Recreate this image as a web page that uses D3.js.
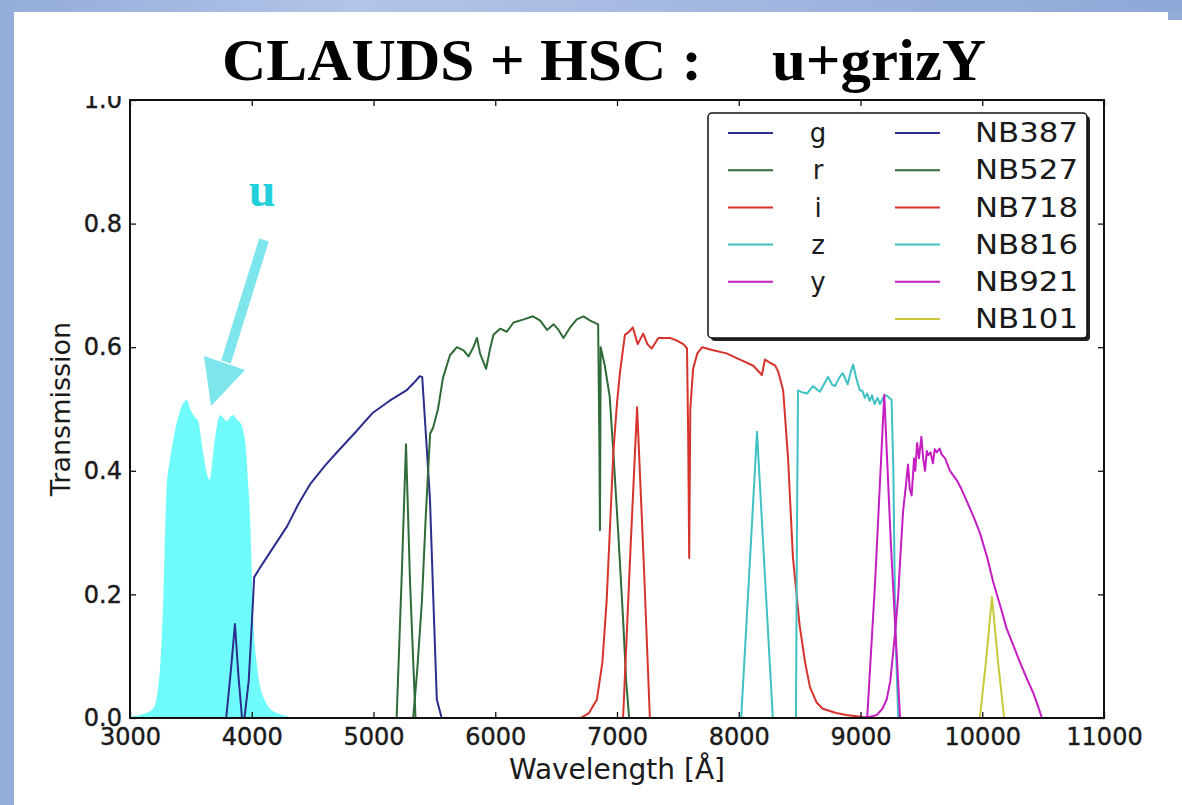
<!DOCTYPE html>
<html lang="en">
<head>
<meta charset="utf-8" />
<title>CLAUDS + HSC filters</title>
<script src="https://d3js.org/d3.v7.min.js"></script>
<style>
  html, body { margin: 0; padding: 0; background: #ffffff; }
  svg { display: block; }
</style>
</head>
<body>
<div id="svgContainer"></div>
<script>
// axis ticks
var xTicks = [3000, 4000, 5000, 6000, 7000, 8000, 9000, 10000, 11000];
var yTicks = [0.0, 0.2, 0.4, 0.6, 0.8, 1.0];

// filter curves: [wavelength (A), transmission]
var uCurve = [[3000,0.002],[3100,0.006],[3190,0.015],[3225,0.04],[3250,0.09],[3275,0.2],[3300,0.37],[3330,0.42],[3355,0.45],[3400,0.49],[3440,0.51],[3465,0.515],[3495,0.5],[3520,0.49],[3560,0.48],[3600,0.43],[3640,0.39],[3655,0.385],[3690,0.44],[3740,0.49],[3770,0.485],[3795,0.48],[3825,0.488],[3850,0.49],[3880,0.482],[3905,0.478],[3930,0.465],[3950,0.44],[3970,0.38],[3985,0.33],[4000,0.24],[4010,0.17],[4040,0.09],[4070,0.05],[4110,0.028],[4150,0.015],[4220,0.007],[4290,0.003],[4400,0]];
var gCurve = [[3940,0],[3975,0.06],[4000,0.15],[4020,0.228],[4068,0.243],[4150,0.268],[4290,0.31],[4380,0.345],[4478,0.378],[4600,0.408],[4700,0.43],[4850,0.462],[4995,0.494],[5130,0.513],[5270,0.53],[5330,0.542],[5380,0.553],[5400,0.552],[5430,0.46],[5464,0.353],[5490,0.2],[5520,0.03],[5560,0]];
var rCurve = [[5326,0],[5360,0.08],[5398,0.19],[5430,0.33],[5465,0.46],[5490,0.47],[5530,0.5],[5570,0.55],[5628,0.587],[5685,0.6],[5740,0.595],[5780,0.585],[5820,0.6],[5850,0.615],[5875,0.59],[5925,0.565],[5955,0.595],[5985,0.62],[6040,0.63],[6095,0.625],[6150,0.64],[6235,0.645],[6310,0.65],[6370,0.643],[6425,0.628],[6480,0.637],[6520,0.628],[6560,0.615],[6615,0.632],[6670,0.645],[6725,0.65],[6780,0.643],[6845,0.637],[6855,0.45],[6860,0.304],[6866,0.6],[6900,0.57],[6940,0.52],[6970,0.43],[7010,0.3],[7050,0.16],[7075,0.06],[7100,0]];
var iCurve = [[6700,0],[6770,0.008],[6835,0.03],[6880,0.09],[6915,0.19],[6945,0.32],[6970,0.43],[7000,0.51],[7025,0.56],[7065,0.62],[7100,0.625],[7130,0.632],[7170,0.605],[7215,0.622],[7250,0.605],[7285,0.598],[7340,0.615],[7435,0.615],[7500,0.61],[7545,0.605],[7575,0.598],[7585,0.45],[7593,0.259],[7602,0.5],[7625,0.565],[7660,0.59],[7700,0.6],[7790,0.595],[7900,0.59],[8010,0.58],[8120,0.57],[8190,0.555],[8215,0.58],[8256,0.575],[8300,0.57],[8325,0.56],[8365,0.53],[8405,0.42],[8445,0.26],[8500,0.15],[8545,0.09],[8585,0.05],[8640,0.025],[8690,0.015],[8800,0.008],[8885,0.005],[9000,0.002],[9050,0]];
var zCurve = [[8470,0],[8478,0.3],[8487,0.53],[8520,0.527],[8560,0.525],[8610,0.537],[8667,0.528],[8700,0.54],[8733,0.552],[8765,0.54],[8790,0.537],[8830,0.552],[8855,0.558],[8895,0.54],[8920,0.56],[8940,0.572],[8965,0.55],[8995,0.53],[9015,0.53],[9035,0.518],[9055,0.525],[9075,0.513],[9095,0.522],[9115,0.508],[9140,0.518],[9160,0.508],[9190,0.52],[9215,0.522],[9255,0.515],[9270,0.4],[9285,0.15],[9310,0]];
var yCurve = [[8990,0],[9080,0.002],[9135,0.005],[9180,0.015],[9215,0.03],[9245,0.06],[9265,0.1],[9290,0.15],[9310,0.2],[9330,0.27],[9350,0.335],[9375,0.38],[9390,0.41],[9405,0.37],[9420,0.36],[9440,0.42],[9450,0.4],[9465,0.445],[9480,0.42],[9500,0.455],[9515,0.42],[9530,0.4],[9545,0.432],[9555,0.425],[9575,0.43],[9595,0.412],[9610,0.435],[9625,0.43],[9650,0.436],[9665,0.427],[9695,0.42],[9735,0.4],[9790,0.385],[9830,0.37],[9875,0.35],[9930,0.325],[9980,0.3],[10040,0.26],[10090,0.22],[10150,0.18],[10200,0.145],[10260,0.115],[10310,0.09],[10370,0.062],[10420,0.04],[10460,0.018],[10490,0]];
var nb387Curve = [[3790,0],[3830,0.08],[3862,0.152],[3890,0.07],[3920,0]];
var nb527Curve = [[5190,0],[5230,0.22],[5267,0.443],[5300,0.22],[5345,0]];
var nb718Curve = [[7050,0],[7110,0.27],[7165,0.503],[7220,0.25],[7270,0]];
var nb816Curve = [[8020,0],[8085,0.23],[8150,0.463],[8215,0.23],[8280,0]];
var nb921Curve = [[9055,0],[9120,0.22],[9195,0.523],[9250,0.28],[9325,0]];
var nb101Curve = [[9980,0],[10030,0.09],[10080,0.196],[10130,0.09],[10180,0]];

// legend
var broadLabels = ["g", "r", "i", "z", "y"];
var narrowLabels = ["NB387", "NB527", "NB718", "NB816", "NB921", "NB101"];
var broadCurves = [gCurve, rCurve, iCurve, zCurve, yCurve];
var narrowCurves = [nb387Curve, nb527Curve, nb718Curve, nb816Curve, nb921Curve, nb101Curve];
var filterColors = ["#2b2e8c", "#2f6b38", "#d6332d", "#3fc0c3", "#c41ec2", "#c9c93c"];

var width = 1182, height = 805;
var plot = {left: 130, right: 1104, top: 100, bottom: 718};
var font = "'DejaVu Sans', Verdana, sans-serif";
var serif = "'Liberation Serif', 'Times New Roman', serif";

var svg = d3.select("#svgContainer")
            .append("svg")
            .attr("width", width)
            .attr("height", height);

// slide background
var defs = svg.append("defs");
var bg = defs.append("linearGradient").attr("id", "bgGrad")
             .attr("x1", "0").attr("y1", "0").attr("x2", "1").attr("y2", "0");
bg.append("stop").attr("offset", "0").attr("stop-color", "#93acd9");
bg.append("stop").attr("offset", "0.3").attr("stop-color", "#b2c5e8");
bg.append("stop").attr("offset", "0.6").attr("stop-color", "#a3b8e0");
bg.append("stop").attr("offset", "1").attr("stop-color", "#8ea8d8");
svg.append("rect").attr("width", width).attr("height", height).attr("fill", "url(#bgGrad)");
svg.append("rect").attr("x", 14).attr("y", 12).attr("width", width - 14).attr("height", height - 12)
   .attr("fill", "#ffffff");
svg.append("rect").attr("x", 1168).attr("y", 12).attr("width", 14).attr("height", 8)
   .attr("fill", "#93acd9");

defs.append("clipPath").attr("id", "plotClip")
    .append("rect").attr("x", plot.left).attr("y", plot.top)
    .attr("width", plot.right - plot.left).attr("height", plot.bottom - plot.top);
// the top of the "1.0" label is hidden under the title band
defs.append("clipPath").attr("id", "labelClip")
    .append("rect").attr("x", -200).attr("y", 96).attr("width", 400).attr("height", height);

// title
svg.append("text").attr("x", 222).attr("y", 80)
   .attr("font-family", serif).attr("font-weight", "bold").attr("font-size", 60).attr("fill", "#000")
   .attr("textLength", 480).attr("lengthAdjust", "spacingAndGlyphs")
   .text("CLAUDS + HSC :");
svg.append("text").attr("x", 772).attr("y", 80)
   .attr("font-family", serif).attr("font-weight", "bold").attr("font-size", 60).attr("fill", "#000")
   .attr("textLength", 214).attr("lengthAdjust", "spacingAndGlyphs")
   .text("u+grizY");

var x = d3.scaleLinear().domain([3000, 11000]).range([plot.left, plot.right]);
var y = d3.scaleLinear().domain([0, 1]).range([plot.bottom, plot.top]);

var line = d3.line().x(function(d) { return x(d[0]); }).y(function(d) { return y(d[1]); });
var area = d3.area().x(function(d) { return x(d[0]); })
             .y0(y(0)).y1(function(d) { return y(d[1]); })
             .curve(d3.curveMonotoneX);

var curves = svg.append("g").attr("clip-path", "url(#plotClip)");

// u band, filled
curves.append("path").attr("d", area(uCurve)).attr("fill", "#6ffbfb");

broadCurves.forEach(function(c, i) {
  curves.append("path").attr("d", line(c))
        .attr("fill", "none").attr("stroke", filterColors[i])
        .attr("stroke-width", 2).attr("stroke-linejoin", "round");
});
narrowCurves.forEach(function(c, i) {
  curves.append("path").attr("d", line(c))
        .attr("fill", "none").attr("stroke", filterColors[i])
        .attr("stroke-width", 2).attr("stroke-linejoin", "round");
});

// axes, matplotlib style ticks pointing inwards
var axisStyle = function(g) {
  g.select(".domain").remove();
  g.selectAll(".tick line").attr("stroke", "#111").attr("stroke-width", 1.3);
  g.selectAll(".tick text").attr("font-family", font).attr("font-size", 24).attr("fill", "#1a1a1a")
   .attr("stroke", "#1a1a1a").attr("stroke-width", 0.4);
};

svg.append("g").attr("transform", "translate(0," + plot.bottom + ")")
   .call(d3.axisBottom(x).tickValues(xTicks).tickSize(-6).tickPadding(10).tickFormat(d3.format("d")))
   .call(axisStyle);
svg.append("g").attr("transform", "translate(0," + plot.top + ")")
   .call(d3.axisTop(x).tickValues(xTicks).tickSize(-6).tickFormat(""))
   .call(axisStyle);
svg.append("g").attr("transform", "translate(" + plot.left + ",0)")
   .attr("clip-path", "url(#labelClip)")
   .call(d3.axisLeft(y).tickValues(yTicks).tickSize(-6).tickPadding(8).tickFormat(d3.format(".1f")))
   .call(axisStyle);
svg.append("g").attr("transform", "translate(" + plot.right + ",0)")
   .call(d3.axisRight(y).tickValues(yTicks).tickSize(-6).tickFormat(""))
   .call(axisStyle);

svg.append("rect").attr("x", plot.left).attr("y", plot.top)
   .attr("width", plot.right - plot.left).attr("height", plot.bottom - plot.top)
   .attr("fill", "none").attr("stroke", "#111").attr("stroke-width", 2);

// axis titles
svg.append("text").attr("x", (plot.left + plot.right) / 2).attr("y", 779)
   .attr("text-anchor", "middle").attr("font-family", font).attr("font-size", 28)
   .attr("fill", "#1a1a1a").text("Wavelength [\u00c5]");
svg.append("text").attr("transform", "translate(70,409) rotate(-90)")
   .attr("text-anchor", "middle").attr("font-family", font).attr("font-size", 27)
   .attr("fill", "#1a1a1a").text("Transmission");

// legend
var legend = svg.append("g").attr("transform", "translate(708,113)");
legend.append("rect").attr("x", 3).attr("y", 3).attr("width", 379).attr("height", 225)
      .attr("rx", 4).attr("fill", "#222");
legend.append("rect").attr("width", 379).attr("height", 225).attr("rx", 4)
      .attr("fill", "#fff").attr("stroke", "#111").attr("stroke-width", 1.5);

var rowY = d3.scalePoint().domain(d3.range(6)).range([20, 206]);

broadLabels.forEach(function(lab, i) {
  legend.append("line").attr("x1", 20).attr("x2", 65)
        .attr("y1", rowY(i)).attr("y2", rowY(i))
        .attr("stroke", filterColors[i]).attr("stroke-width", 2);
  legend.append("text").attr("x", 110).attr("y", rowY(i)).attr("dy", "0.35em")
        .attr("text-anchor", "middle").attr("font-family", font).attr("font-size", 26)
        .attr("fill", "#1a1a1a").text(lab);
});
narrowLabels.forEach(function(lab, i) {
  legend.append("line").attr("x1", 187).attr("x2", 232)
        .attr("y1", rowY(i)).attr("y2", rowY(i))
        .attr("stroke", filterColors[i]).attr("stroke-width", 2);
  legend.append("text").attr("x", 267).attr("y", rowY(i)).attr("dy", "0.35em")
        .attr("font-family", font).attr("font-size", 26)
        .attr("textLength", 103).attr("lengthAdjust", "spacingAndGlyphs")
        .attr("fill", "#1a1a1a").text(lab);
});

// "u" annotation with arrow
svg.append("text").attr("x", 262).attr("y", 206).attr("text-anchor", "middle")
   .attr("font-family", serif).attr("font-weight", "bold").attr("font-size", 48)
   .attr("fill", "#22d0dc").text("u");
svg.append("line").attr("x1", 264).attr("y1", 240).attr("x2", 226).attr("y2", 362)
   .attr("stroke", "#7de5ec").attr("stroke-width", 10);
svg.append("path").attr("d", "M204,356 L245,370 L211,406 Z").attr("fill", "#7de5ec");
</script>
</body>
</html>
